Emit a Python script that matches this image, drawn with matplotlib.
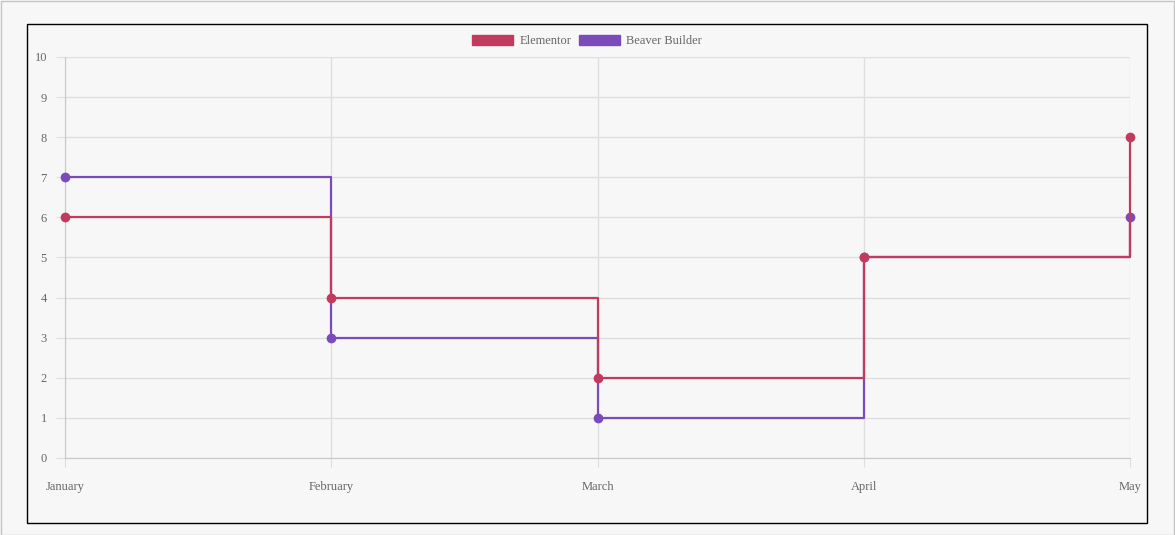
import matplotlib
matplotlib.use("Agg")
from matplotlib import pyplot as plt
from matplotlib.patches import Rectangle, Patch

months = ["January", "February", "March", "April", "May"]
elementor = [6, 4, 2, 5, 8]
beaver = [7, 3, 1, 5, 6]

RED = "#c23b5f"
PURPLE = "#7b4bbb"
GRID = "#dedede"
TEXT = "#666666"

W, H = 1175, 535
fig = plt.figure(figsize=(W / 100, H / 100), dpi=100)
fig.patch.set_facecolor("#f7f7f7")
plt.rcParams["font.family"] = ["Liberation Serif", "DejaVu Serif"]

# outer light border + inner black frame
fig.add_artist(Rectangle((0.5 / W, 0.5 / H), 1 - 1.5 / W, 1 - 1.5 / H, transform=fig.transFigure,
                         fill=False, edgecolor="#c4c4c4", linewidth=1))
fig.add_artist(Rectangle((27 / W, (H - 523) / H), (1147 - 27) / W, (523 - 24) / H,
                         transform=fig.transFigure, fill=False, edgecolor="black", linewidth=1))

x0, x1, ytop, ybot = 65, 1130, 57, 458
ax = fig.add_axes([x0 / W, (H - ybot) / H, (x1 - x0) / W, (ybot - ytop) / H])
ax.set_facecolor("none")

xs = list(range(len(months)))
ax.plot(xs, beaver, drawstyle="steps-post", color=PURPLE, linewidth=1.6, zorder=3, clip_on=False)
ax.plot(xs, beaver, "o", color=PURPLE, markersize=6, zorder=4, clip_on=False)
ax.plot(xs, elementor, drawstyle="steps-post", color=RED, linewidth=1.6, zorder=5, clip_on=False)
ax.plot(xs, elementor, "o", color=RED, markersize=6, zorder=6, clip_on=False)

ax.set_xlim(0, len(months) - 1)
ax.set_ylim(0, 10)
ax.set_xticks(xs)
ax.set_xticklabels(months)
ax.set_yticks(range(0, 11))
ax.grid(True, color=GRID, linewidth=1)
ax.set_axisbelow(True)
for s in ["top", "right"]:
    ax.spines[s].set_visible(False)
for s in ["left", "bottom"]:
    ax.spines[s].set_color("#c8c8c8")
ax.tick_params(axis="both", length=6.5, color=GRID, labelcolor=TEXT, labelsize=9)
ax.tick_params(axis="x", pad=10)
ax.tick_params(axis="y", pad=6.5)

handles = [Patch(facecolor=RED, edgecolor=RED, label="Elementor"),
           Patch(facecolor=PURPLE, edgecolor=PURPLE, label="Beaver Builder")]
leg = fig.legend(handles=handles, loc="center", bbox_to_anchor=(587 / W, (H - 41) / H),
                 ncol=2, frameon=False, fontsize=9, handlelength=3.3, handleheight=0.9,
                 handletextpad=0.5, columnspacing=0.6, borderaxespad=0)
for t in leg.get_texts():
    t.set_color(TEXT)

fig.savefig("out.png", dpi=100, facecolor=fig.get_facecolor())
